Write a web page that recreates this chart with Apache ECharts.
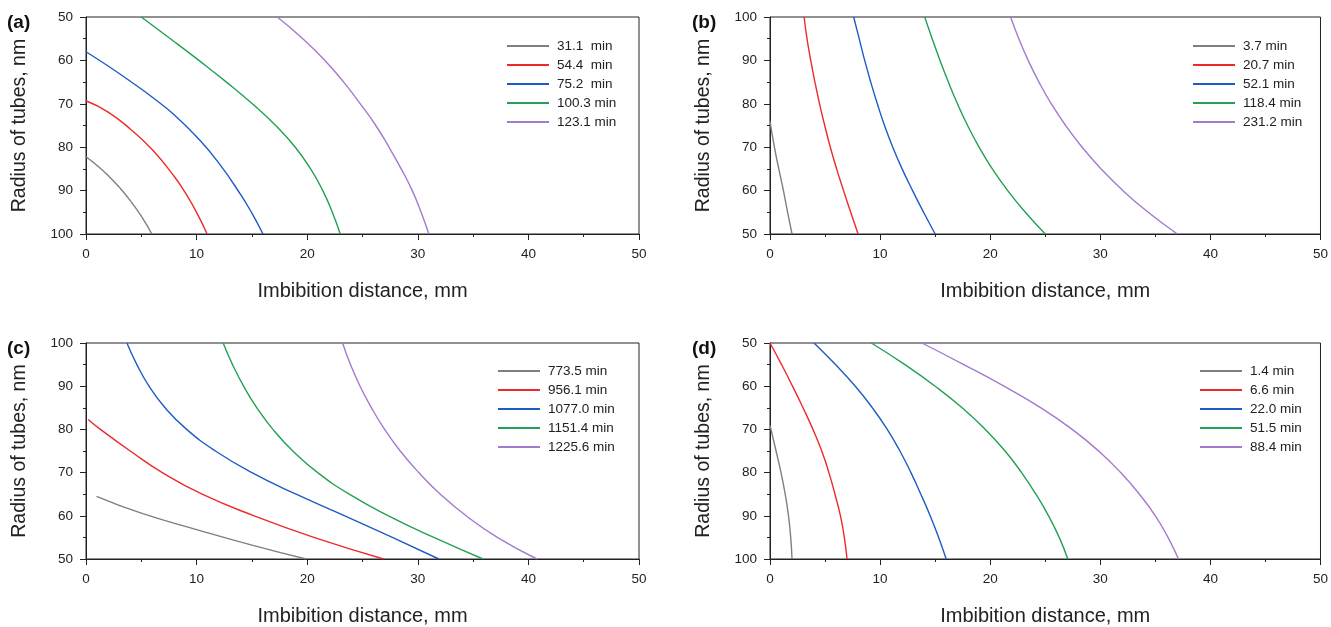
<!DOCTYPE html>
<html>
<head>
<meta charset="utf-8">
<script src="https://cdn.jsdelivr.net/npm/echarts@6/dist/echarts.min.js"></script>
<style>
html,body{margin:0;padding:0;background:#fff;}
#c{width:1331px;height:627px;}
</style>
</head>
<body>
<div id="c"></div>
<script>
// ---- Data (x = imbibition distance mm, r = radius nm) ----
const namesA = ['31.1  min','54.4  min','75.2  min','100.3 min','123.1 min'];
const a1 = [[0,82.2],[1,84.2],[2,86.5],[3,89.2],[4,92.3],[5,95.9],[5.95,100]];
const a2 = [[0,69.3],[2,71.9],[4,75.8],[6,80.6],[8,86.8],[9,90.6],[10,95.0],[10.95,100]];
const a3 = [[0,58],[2,61.3],[4,64.8],[6,68.5],[8,72.6],[10,77.6],[12,83.6],[14,91],[15,95.2],[16,100]];
const a4 = [[5,50],[7.63,55],[10.21,60],[12.7,65],[15.04,70],[17.15,75],[18.92,80],[20.31,85],[21.41,90],[22.27,95],[22.99,100]];
const a5 = [[17.3,50],[19.6,55],[21.6,60],[23.3,65],[24.8,70],[26.2,75],[27.4,80],[28.5,85],[29.5,90],[30.3,95],[31,100]];

const namesB = ['3.7 min','20.7 min','52.1 min','118.4 min','231.2 min'];
const b1 = [[0,76],[0.4,70],[0.8,65],[1.22,60],[1.6,55],[2,50]];
const b2 = [[3.1,100],[3.36,95],[3.7,90],[4.08,85],[4.5,80],[4.97,75],[5.48,70],[6.05,65],[6.68,60],[7.33,55],[8,50]];
const b3 = [[7.6,100],[8.1,95],[8.6,90],[9.15,85],[9.75,80],[10.4,75],[11.15,70],[12,65],[12.95,60],[13.95,55],[15,50]];
const b4 = [[14.05,100],[14.73,95],[15.44,90],[16.2,85],[17.03,80],[17.95,75],[18.99,70],[20.19,65],[21.59,60],[23.19,55],[25,50]];
const b5 = [[21.85,100],[22.6,95],[23.45,90],[24.43,85],[25.55,80],[26.85,75],[28.35,70],[30.07,65],[32.05,60],[34.35,55],[37,50]];

const namesC = ['773.5 min','956.1 min','1077.0 min','1151.4 min','1225.6 min'];
const c1 = [[0.95,64.5],[5,60.6],[10,56.8],[15,53.2],[19.9,50]];
const c2 = [[0.2,82.3],[1.3,80],[4,75],[6.9,70],[10.5,65],[15.2,60],[20.6,55],[26.9,50]];
const c3 = [[3.7,100],[4.6,95],[5.7,90],[7.15,85],[9.1,80],[11.7,75],[15.0,70],[19.0,65],[23.4,60],[27.7,55],[31.9,50]];
const c4 = [[12.4,100],[13.25,95],[14.25,90],[15.45,85],[16.9,80],[18.7,75],[20.95,70],[23.8,65],[27.35,60],[31.45,55],[35.9,50]];
const c5 = [[23.2,100],[23.91,95],[24.78,90],[25.81,85],[27.0,80],[28.41,75],[30.09,70],[32.04,65],[34.37,60],[37.19,55],[40.77,50]];

const namesD = ['1.4 min','6.6 min','22.0 min','51.5 min','88.4 min'];
const d1 = [[0,69],[0.55,75],[1.0,80],[1.38,85],[1.68,90],[1.88,95],[2,100]];
const d2 = [[0,50],[1.05,55],[2.05,60],[3.0,65],[3.9,70],[4.7,75],[5.35,80],[5.9,85],[6.4,90],[6.75,95],[7,100]];
const d3 = [[4,50],[5.95,55],[7.75,60],[9.3,65],[10.65,70],[11.8,75],[12.8,80],[13.7,85],[14.55,90],[15.32,95],[16,100]];
const d4 = [[9.2,50],[12.25,55],[15.0,60],[17.45,65],[19.55,70],[21.35,75],[22.85,80],[24.15,85],[25.3,90],[26.27,95],[27.05,100]];
const d5 = [[13.8,50],[17.6,55],[21.25,60],[24.6,65],[27.45,70],[29.85,75],[31.85,80],[33.55,85],[35.0,90],[36.15,95],[37.1,100]];

const panelLabels = ['(a)','(b)','(c)','(d)'];
const xTitle = 'Imbibition distance, mm';
const yTitle = 'Radius of tubes, nm';

// ---- Style ----
const colors = ['#7f7f7f','#ec2a2a','#1d5cc6','#22a053','#a479d0'];
const FONT = '"Liberation Sans", Arial, sans-serif';

const panels = [
  {names:namesA, data:[a1,a2,a3,a4,a5], inverse:true,  grid:{left:86, top:17, width:553, height:217}, legend:{left:507, top:38}},
  {names:namesB, data:[b1,b2,b3,b4,b5], inverse:false, grid:{left:770, top:17, width:552, height:217}, legend:{left:1193, top:38}},
  {names:namesC, data:[c1,c2,c3,c4,c5], inverse:false, grid:{left:86, top:343, width:553, height:218}, legend:{left:498, top:363}},
  {names:namesD, data:[d1,d2,d3,d4,d5], inverse:true,  grid:{left:770, top:343, width:552, height:218}, legend:{left:1200, top:363}}
];
const labelPos = [[7,13],[692,13],[7,339],[692,339]];

const grid = [], xAxis = [], yAxis = [], legend = [], series = [], graphic = [];
panels.forEach((p, i) => {
  grid.push(Object.assign({show:true, borderColor:'#222', borderWidth:1, backgroundColor:'transparent'}, p.grid));
  const tickCommon = () => ({
    axisLine:{show:true, lineStyle:{color:'#222', width:1}},
    axisTick:{show:true, inside:false, length:6, lineStyle:{color:'#222'}},
    minorTick:{show:true, splitNumber:2, length:3, lineStyle:{color:'#222'}},
    splitLine:{show:false},
    axisLabel:{color:'#222', fontSize:13.5, fontFamily:FONT, margin:13}
  });
  xAxis.push(Object.assign({
    type:'value', gridIndex:i, min:0, max:50, interval:10,
    name:xTitle, nameLocation:'middle', nameGap:47,
    nameTextStyle:{fontSize:20, color:'#222', fontFamily:FONT}
  }, tickCommon()));
  yAxis.push(Object.assign({
    type:'value', gridIndex:i, min:50, max:100, interval:10, inverse:p.inverse,
    name:yTitle, nameLocation:'middle', nameGap:56,
    nameTextStyle:{fontSize:19.5, color:'#222', fontFamily:FONT}
  }, tickCommon()));
  legend.push({
    data:p.names.map((n, k) => ({name:n, icon:'rect', itemStyle:{color:colors[k]}})),
    left:p.legend.left, top:p.legend.top, orient:'vertical',
    icon:'rect', itemWidth:42, itemHeight:2, itemGap:3, padding:0,
    textStyle:{fontSize:13.5, lineHeight:16, color:'#222', fontFamily:FONT, padding:[0,0,0,3]}
  });
  p.data.forEach((d, k) => {
    series.push({
      type:'line', name:p.names[k], xAxisIndex:i, yAxisIndex:i, data:d,
      smooth:0.5, symbol:'none', showSymbol:false,
      lineStyle:{color:colors[k], width:1.4}, itemStyle:{color:colors[k]},
      animation:false
    });
  });
  graphic.push({type:'text', left:labelPos[i][0], top:labelPos[i][1],
    style:{text:panelLabels[i], font:'bold 19px "Liberation Sans", Arial, sans-serif', fill:'#111'}});
});

const chart = echarts.init(document.getElementById('c'), null, {renderer:'canvas'});
chart.setOption({
  animation:false,
  backgroundColor:'#fff',
  grid, xAxis, yAxis, legend, series, graphic
});
</script>
</body>
</html>
